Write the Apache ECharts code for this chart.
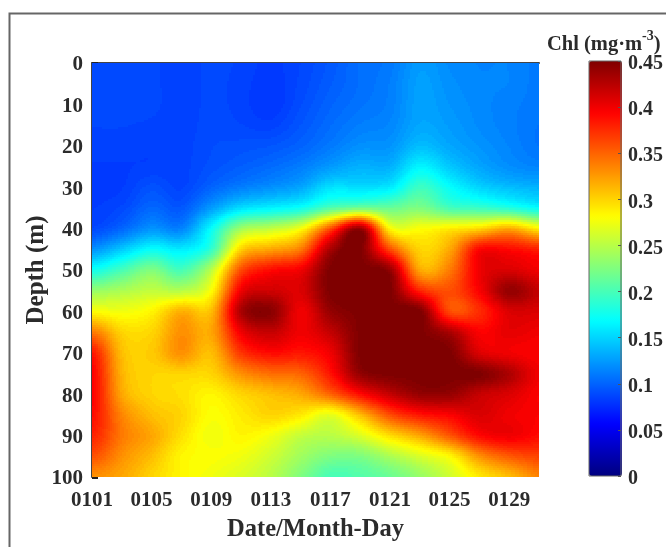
<!DOCTYPE html>
<html><head><meta charset="utf-8">
<style>html,body{margin:0;padding:0;background:#fff}#c{width:666px;height:547px}</style>
<script src="https://cdn.jsdelivr.net/npm/echarts@6/dist/echarts.min.js"></script>
</head><body><div id="c"></div>
<script>
const dateTicks = ['0101','0102','0103','0104','0105','0106','0107','0108','0109','0110','0111','0112','0113','0114','0115','0116','0117','0118','0119','0120','0121','0122','0123','0124','0125','0126','0127','0128','0129','0130','0131'];
const sampledDates = ['0101','0103','0105','0107','0109','0111','0113','0115','0117','0119','0121','0123','0125','0127','0129','0131'];
const depths = [0,5,10,15,20,25,30,35,40,45,50,55,60,65,70,75,80,85,90,95,100];
const d0  = [.088,.088,.088,.084,.088,.086,.082,.087,.095,.105,.110,.125,.118,.115,.115,.110];
const d5  = [.088,.088,.088,.084,.088,.085,.081,.088,.097,.105,.112,.127,.120,.116,.115,.110];
const d10 = [.088,.088,.088,.084,.088,.085,.080,.090,.100,.107,.113,.128,.122,.117,.113,.110];
const d15 = [.087,.087,.086,.084,.089,.087,.085,.094,.104,.112,.116,.130,.125,.118,.113,.108];
const d20 = [.085,.085,.084,.085,.090,.092,.094,.100,.110,.120,.122,.140,.130,.122,.115,.108];
const d25 = [.083,.083,.084,.085,.092,.098,.104,.112,.125,.135,.135,.165,.145,.130,.120,.115];
const d30 = [.083,.083,.092,.086,.100,.112,.120,.130,.155,.155,.160,.195,.170,.150,.140,.135];
const d35 = [.083,.088,.102,.095,.125,.155,.165,.175,.205,.220,.215,.225,.200,.195,.185,.170];
const d40 = [.088,.102,.122,.115,.170,.240,.255,.280,.360,.440,.285,.280,.290,.300,.320,.290];
const d45 = [.120,.145,.170,.160,.190,.300,.320,.340,.430,.450,.360,.300,.320,.390,.390,.380];
const d50 = [.175,.200,.225,.200,.250,.360,.390,.400,.450,.450,.440,.320,.340,.400,.410,.400];
const d55 = [.235,.245,.255,.250,.280,.400,.415,.410,.450,.450,.450,.380,.360,.395,.440,.420];
const d60 = [.280,.275,.285,.315,.310,.430,.445,.400,.440,.450,.450,.450,.360,.375,.410,.410];
const d65 = [.340,.300,.300,.330,.320,.400,.420,.400,.420,.450,.450,.450,.430,.395,.405,.400];
const d70 = [.385,.310,.305,.330,.310,.370,.390,.385,.400,.450,.450,.450,.450,.410,.400,.395];
const d75 = [.395,.315,.300,.300,.300,.330,.345,.350,.385,.440,.450,.450,.450,.450,.430,.400];
const d80 = [.395,.320,.300,.295,.285,.300,.310,.320,.350,.390,.420,.440,.440,.420,.410,.395];
const d85 = [.390,.335,.310,.300,.280,.290,.300,.290,.270,.310,.360,.385,.395,.410,.400,.395];
const d90 = [.380,.340,.320,.295,.275,.285,.275,.255,.250,.265,.295,.320,.355,.390,.400,.390];
const d95 = [.360,.330,.310,.285,.280,.275,.260,.240,.225,.225,.245,.265,.285,.330,.355,.365];
const d100= [.330,.320,.300,.285,.275,.265,.250,.225,.200,.205,.215,.235,.260,.290,.310,.335];
const rows = [d0,d5,d10,d15,d20,d25,d30,d35,d40,d45,d50,d55,d60,d65,d70,d75,d80,d85,d90,d95,d100];
const jet = ['#00007f','#0000ff','#007fff','#00ffff','#7fff7f','#ffff00','#ff7f00','#ff0000','#7f0000'];
const vMax = 0.45;

const nodes = [];
rows.forEach((r,j)=>r.forEach((v,i)=>nodes.push([sampledDates[i],depths[j],v])));
const colorCache = {};
function colorOf(v){
  const k = Math.round(Math.min(1,Math.max(0,v/vMax))*127);
  return colorCache[k] || (colorCache[k]=echarts.color.lerp(k/127,jet));
}
function cr(p0,p1,p2,p3,t){
  return p1+0.5*t*(p2-p0+t*(2*p0-5*p1+4*p2-p3+t*(3*(p1-p2)+p3-p0)));
}
function at(j,i){
  return rows[Math.max(0,Math.min(rows.length-1,j))][Math.max(0,Math.min(sampledDates.length-1,i))];
}
function shade(i,j,tx,ty){
  const q=[];
  for(let m=-1;m<=2;m++) q.push(cr(at(j+m,i-1),at(j+m,i),at(j+m,i+1),at(j+m,i+2),tx));
  return cr(q[0],q[1],q[2],q[3],ty);
}
function renderCell(params, api){
  const n = sampledDates.length, idx = params.dataIndex;
  const i = idx % n, j = Math.floor(idx / n);
  if (i >= n-1 || j >= depths.length-1) return {type:'group',children:[]};
  const p0 = api.coord([dateTicks.indexOf(sampledDates[i]), depths[j]]);
  const p1 = api.coord([dateTicks.indexOf(sampledDates[i+1]), depths[j+1]]);
  const x0=Math.round(p0[0]), x1=Math.round(p1[0]), y0=Math.round(p0[1]), y1=Math.round(p1[1]);
  const children=[], step=2;
  for(let y=y0;y<y1;y+=step){
    const h=Math.min(step,y1-y), ty=(y+h/2-y0)/(y1-y0);
    for(let x=x0;x<x1;x+=step){
      const w=Math.min(step,x1-x), tx=(x+w/2-x0)/(x1-x0);
      children.push({type:'rect',shape:{x,y,width:w,height:h},style:{fill:colorOf(shade(i,j,tx,ty))},silent:true});
    }
  }
  return {type:'group',children};
}
const serif='"Liberation Serif","Times New Roman",serif';
const ink='#2b2b2b';
const chart = echarts.init(document.getElementById('c'),null,{renderer:'canvas'});
chart.setOption({
  animation:false,
  backgroundColor:'#fff',
  grid:[
    {left:92,top:63,width:447,height:414,containLabel:false},
    {left:589,top:61,width:33,height:415,show:true,borderColor:'#666',borderWidth:1,backgroundColor:'transparent',z:2}
  ],
  xAxis:[
    {type:'category',gridIndex:0,data:dateTicks,boundaryGap:false,
     axisLine:{show:true,lineStyle:{color:'#444',width:2}},axisTick:{show:false},
     axisLabel:{interval:3,color:ink,fontFamily:serif,fontWeight:'bold',fontSize:21,margin:13},
     name:'Date/Month-Day',nameLocation:'middle',nameGap:40,
     nameTextStyle:{color:ink,fontFamily:serif,fontWeight:'bold',fontSize:24.5},splitLine:{show:false}},
    {type:'category',gridIndex:1,data:[''],show:false}
  ],
  yAxis:[
    {type:'value',gridIndex:0,inverse:true,min:0,max:100,interval:10,
     axisLine:{show:true,lineStyle:{color:'#444',width:2}},
     axisTick:{show:true,inside:true,length:6,lineStyle:{color:'#222',width:3}},
     axisLabel:{margin:9,formatter:v=>'{a|'+v+'}',
       rich:{a:{color:ink,fontFamily:serif,fontWeight:'bold',fontSize:21,padding:[4,0,0,0]}}},
     name:'Depth (m)',nameLocation:'middle',nameRotate:90,nameGap:43,nameMoveOverlap:false,
     nameTextStyle:{color:ink,fontFamily:serif,fontWeight:'bold',fontSize:25},splitLine:{show:false}},
    {type:'value',gridIndex:1,position:'right',min:0,max:0.45,interval:0.05,z:3,
     axisLine:{show:false},
     axisTick:{show:true,inside:true,length:3,lineStyle:{color:'#555',width:1}},
     axisLabel:{margin:7,formatter:v=>'{a|'+parseFloat(v.toFixed(2))+'}',
       rich:{a:{color:ink,fontFamily:serif,fontWeight:'bold',fontSize:20,padding:[6,0,0,0]}}},
     splitLine:{show:false}}
  ],
  visualMap:{type:'continuous',show:true,min:0,max:vMax,dimension:2,seriesIndex:0,
    left:589,top:61,itemWidth:33,itemHeight:415,showLabel:false,calculable:false,
    text:null,padding:0,z:1,inRange:{color:jet},hoverLink:false,realtime:false},
  series:[{type:'custom',xAxisIndex:0,yAxisIndex:0,coordinateSystem:'cartesian2d',
    renderItem:renderCell,data:nodes,clip:true,silent:true,
    encode:{x:0,y:1},progressive:0,animation:false}],
  graphic:[
    {type:'rect',silent:true,z:-1,shape:{x:9.5,y:13.5,width:900,height:900},style:{fill:'none',stroke:'#666',lineWidth:2}},
    {type:'text',silent:true,left:547,top:29,style:{
      text:'{a|Chl (mg·m}{s|-3}{a|)}',
      rich:{a:{fontFamily:serif,fontWeight:'bold',fontSize:20.5,fill:ink,verticalAlign:'bottom',lineHeight:26},
            s:{fontFamily:serif,fontWeight:'bold',fontSize:14,fill:ink,verticalAlign:'top',lineHeight:26}}}}
  ]
});
</script></body></html>
